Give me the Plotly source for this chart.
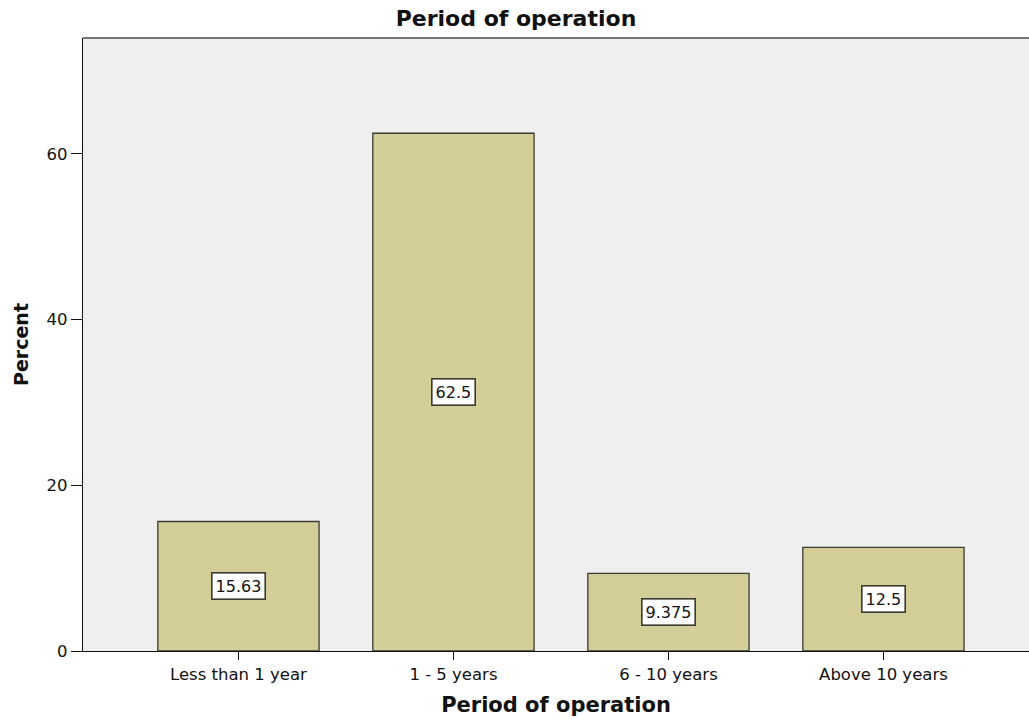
import plotly.graph_objects as go

categories = ["Less than 1 year", "1 - 5 years", "6 - 10 years", "Above 10 years"]
percent = [15.63, 62.5, 9.375, 12.5]
labels = ["15.63", "62.5", "9.375", "12.5"]
yticks = [0, 20, 40, 60]

FONT = "DejaVu Sans, Arial, sans-serif"

fig = go.Figure()
fig.add_trace(go.Bar(
    x=list(range(len(categories))), y=percent, width=0.75,
    marker=dict(color="#D3CE98", line=dict(color="#3a3a30", width=1.3)),
    hoverinfo="skip",
))

for i, (v, t) in enumerate(zip(percent, labels)):
    fig.add_annotation(x=i, y=v / 2, text=t, showarrow=False,
                       font=dict(family=FONT, size=16, color="#111"),
                       bgcolor="white", bordercolor="#3a3a30", borderwidth=1.6, borderpad=3)

fig.update_layout(
    width=1029, height=719,
    margin=dict(l=83, r=0, t=38, b=68),
    paper_bgcolor="white", plot_bgcolor="#EFEFEF",
    showlegend=False,
    font=dict(family=FONT, size=16.5, color="#111"),
    title=dict(text="<b>Period of operation</b>", x=516 / 1029, xanchor="center",
               y=1 - 18 / 719, yanchor="middle", font=dict(size=22, color="#111")),
)
fig.update_xaxes(
    range=[-0.723, 3.677], tickmode="array",
    tickvals=list(range(len(categories))), ticktext=categories,
    ticks="outside", ticklen=8, tickcolor="#111", showline=True, linecolor="#111",
    linewidth=1.3, showgrid=False, zeroline=False, mirror=False,
    title=dict(text="<b>Period of operation</b>", font=dict(size=21), standoff=14),
)
fig.update_yaxes(
    range=[0, 74], tickmode="array", tickvals=yticks,
    ticks="outside", ticklen=11, tickcolor="#111", showline=True, linecolor="#111",
    linewidth=1.3, showgrid=False, zeroline=False,
    title=dict(text="<b>Percent</b>", font=dict(size=19), standoff=12),
)
# top border of plot area
fig.add_shape(type="line", xref="paper", yref="paper", x0=0, x1=1, y0=1, y1=1,
              line=dict(color="#777", width=2))

fig.write_html("out.html")
